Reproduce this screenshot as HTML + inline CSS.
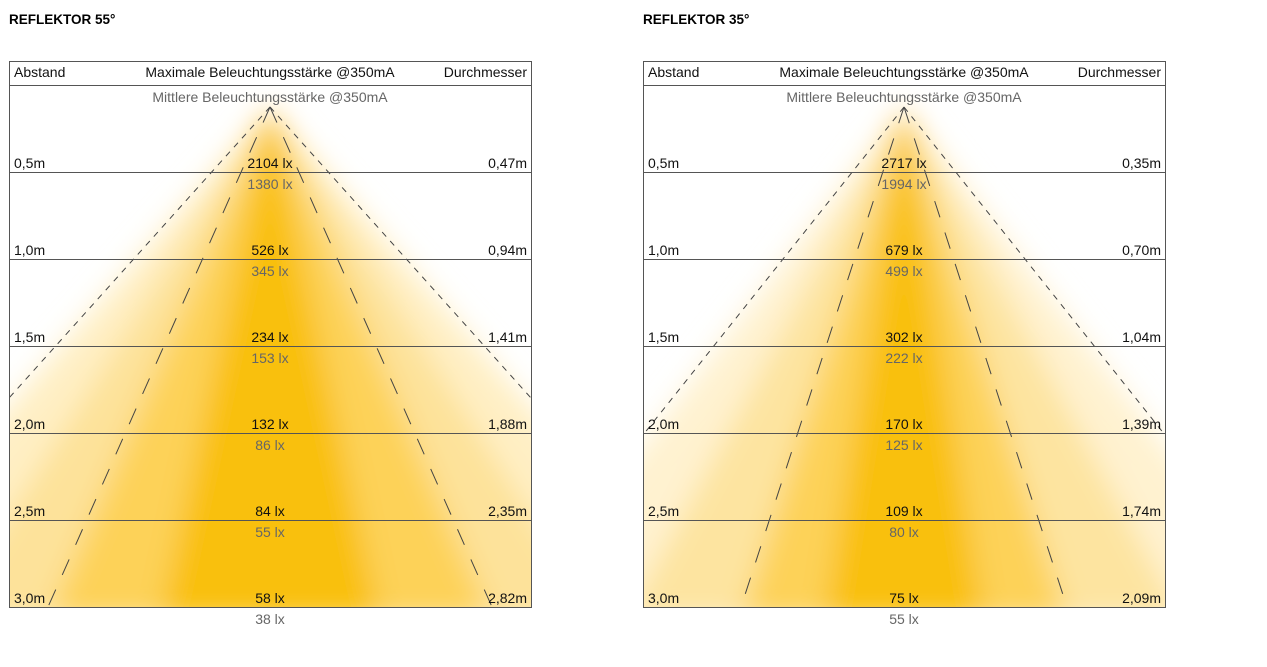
<!DOCTYPE html>
<html><head><meta charset="utf-8"><style>
html,body{margin:0;padding:0;background:#fff;width:1267px;height:667px;overflow:hidden}
svg{display:block;font-family:"Liberation Sans",sans-serif}
</style></head><body>
<svg width="1267" height="667" viewBox="0 0 1267 667">
<defs>
<filter id="bl" x="-20%" y="-20%" width="140%" height="140%"><feGaussianBlur stdDeviation="14"/></filter>
<clipPath id="cp"><rect x="0" y="24" width="522" height="522"/></clipPath>
</defs>
<text x="9" y="24" font-size="13.5" font-weight="bold" fill="#000">REFLEKTOR 55°</text>
<text x="643" y="24" font-size="13.5" font-weight="bold" fill="#000">REFLEKTOR 35°</text>

<!-- LEFT PANEL -->
<g transform="translate(9,61)">
<g clip-path="url(#cp)"><g filter="url(#bl)">
<polygon points="261,46 -187,560 709,560" fill="#ffefc4"/>
<polygon points="261,46 -69,560 591,560" fill="#fde29a"/>
<polygon points="261,46 39,560 483,560" fill="#fdd258"/>
<polygon points="261,46 151,560 371,560" fill="#f9c010"/>
</g></g>
<g stroke="#444" stroke-width="1" fill="none">
<line x1="261" y1="46" x2="0" y2="337" stroke-dasharray="6,6"/><line x1="261" y1="46" x2="522" y2="337" stroke-dasharray="6,6"/>
<line x1="261" y1="46" x2="39" y2="546" stroke-dasharray="17,16"/><line x1="261" y1="46" x2="483" y2="546" stroke-dasharray="17,16"/>
</g>
<rect x="0.5" y="0.5" width="522" height="546" fill="none" stroke="#555"/>
<g stroke="#555"><line x1="0" y1="24.5" x2="522" y2="24.5"/><line x1="0" y1="111.5" x2="522" y2="111.5"/><line x1="0" y1="198.5" x2="522" y2="198.5"/><line x1="0" y1="285.5" x2="522" y2="285.5"/><line x1="0" y1="372.5" x2="522" y2="372.5"/><line x1="0" y1="459.5" x2="522" y2="459.5"/></g>
<g font-size="14" fill="#111">
<text x="5" y="16">Abstand</text><text x="261" y="16" text-anchor="middle">Maximale Beleuchtungsstärke @350mA</text><text x="518" y="16" text-anchor="end">Durchmesser</text>
<text x="261" y="41" text-anchor="middle" fill="#666">Mittlere Beleuchtungsstärke @350mA</text>
<text x="5" y="107">0,5m</text><text x="5" y="194">1,0m</text><text x="5" y="281">1,5m</text><text x="5" y="368">2,0m</text><text x="5" y="455">2,5m</text><text x="5" y="542">3,0m</text>
<text x="518" y="107" text-anchor="end">0,47m</text><text x="518" y="194" text-anchor="end">0,94m</text><text x="518" y="281" text-anchor="end">1,41m</text><text x="518" y="368" text-anchor="end">1,88m</text><text x="518" y="455" text-anchor="end">2,35m</text><text x="518" y="542" text-anchor="end">2,82m</text>
<g text-anchor="middle"><text x="261" y="107">2104 lx</text><text x="261" y="194">526 lx</text><text x="261" y="281">234 lx</text><text x="261" y="368">132 lx</text><text x="261" y="455">84 lx</text><text x="261" y="542">58 lx</text></g>
<g text-anchor="middle" fill="#666"><text x="261" y="128">1380 lx</text><text x="261" y="215">345 lx</text><text x="261" y="302">153 lx</text><text x="261" y="389">86 lx</text><text x="261" y="476">55 lx</text><text x="261" y="563">38 lx</text></g>
</g></g>

<!-- RIGHT PANEL -->
<g transform="translate(643,61)">
<g clip-path="url(#cp)"><g filter="url(#bl)">
<polygon points="261,46 -137,560 659,560" fill="#fff2d0"/>
<polygon points="261,46 -19,560 541,560" fill="#fde4a0"/>
<polygon points="261,46 98,560 424,560" fill="#fdd258"/>
<polygon points="261,46 181,560 341,560" fill="#f9c010"/>
</g></g>
<g stroke="#444" stroke-width="1" fill="none">
<line x1="261" y1="46" x2="0" y2="374" stroke-dasharray="6,6"/><line x1="261" y1="46" x2="522" y2="374" stroke-dasharray="6,6"/>
<line x1="261" y1="46" x2="98" y2="546" stroke-dasharray="17,16"/><line x1="261" y1="46" x2="424" y2="546" stroke-dasharray="17,16"/>
</g>
<rect x="0.5" y="0.5" width="522" height="546" fill="none" stroke="#555"/>
<g stroke="#555"><line x1="0" y1="24.5" x2="522" y2="24.5"/><line x1="0" y1="111.5" x2="522" y2="111.5"/><line x1="0" y1="198.5" x2="522" y2="198.5"/><line x1="0" y1="285.5" x2="522" y2="285.5"/><line x1="0" y1="372.5" x2="522" y2="372.5"/><line x1="0" y1="459.5" x2="522" y2="459.5"/></g>
<g font-size="14" fill="#111">
<text x="5" y="16">Abstand</text><text x="261" y="16" text-anchor="middle">Maximale Beleuchtungsstärke @350mA</text><text x="518" y="16" text-anchor="end">Durchmesser</text>
<text x="261" y="41" text-anchor="middle" fill="#666">Mittlere Beleuchtungsstärke @350mA</text>
<text x="5" y="107">0,5m</text><text x="5" y="194">1,0m</text><text x="5" y="281">1,5m</text><text x="5" y="368">2,0m</text><text x="5" y="455">2,5m</text><text x="5" y="542">3,0m</text>
<text x="518" y="107" text-anchor="end">0,35m</text><text x="518" y="194" text-anchor="end">0,70m</text><text x="518" y="281" text-anchor="end">1,04m</text><text x="518" y="368" text-anchor="end">1,39m</text><text x="518" y="455" text-anchor="end">1,74m</text><text x="518" y="542" text-anchor="end">2,09m</text>
<g text-anchor="middle"><text x="261" y="107">2717 lx</text><text x="261" y="194">679 lx</text><text x="261" y="281">302 lx</text><text x="261" y="368">170 lx</text><text x="261" y="455">109 lx</text><text x="261" y="542">75 lx</text></g>
<g text-anchor="middle" fill="#666"><text x="261" y="128">1994 lx</text><text x="261" y="215">499 lx</text><text x="261" y="302">222 lx</text><text x="261" y="389">125 lx</text><text x="261" y="476">80 lx</text><text x="261" y="563">55 lx</text></g>
</g></g>
</svg>
</body></html>
